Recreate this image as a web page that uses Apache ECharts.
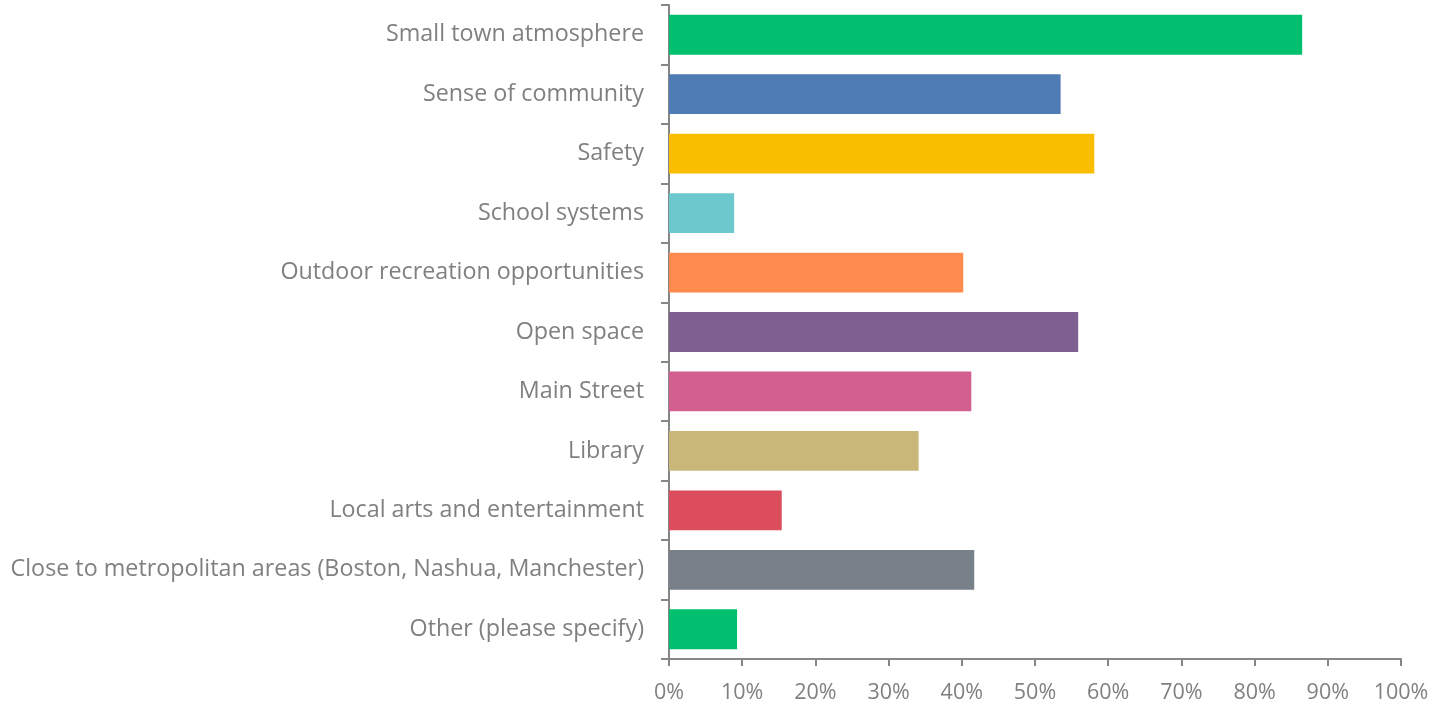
<!DOCTYPE html>
<html>
<head>
<meta charset="utf-8">
<script src="https://cdn.jsdelivr.net/npm/echarts@6/dist/echarts.min.js"></script>
<style>
  html, body { margin: 0; padding: 0; background: #ffffff; }
  #chart { width: 1441px; height: 705px; }
</style>
</head>
<body>
<div id="chart"></div>
<script>
// Survey responses: what residents value most about the town (share of respondents, %)
const categories = [
  'Small town atmosphere',
  'Sense of community',
  'Safety',
  'School systems',
  'Outdoor recreation opportunities',
  'Open space',
  'Main Street',
  'Library',
  'Local arts and entertainment',
  'Close to metropolitan areas (Boston, Nashua, Manchester)',
  'Other (please specify)'
];
const values = [86.5, 53.5, 58.1, 8.9, 40.2, 55.9, 41.3, 34.1, 15.4, 41.7, 9.3];
const barColors = [
  '#00BF6F', '#507CB6', '#F9BE00', '#6BC8CD', '#FF8B4F', '#7F5F8F',
  '#D25F90', '#C9B77A', '#DB4D5C', '#78808A', '#00BF6F'
];
const xTicks = [0, 10, 20, 30, 40, 50, 60, 70, 80, 90, 100];

const axisGrey = '#868686';
const textGrey = '#808080';
const fontFamily = '"Open Sans", "Noto Sans", sans-serif';

const chart = echarts.init(document.getElementById('chart'), null, { renderer: 'canvas' });
chart.setOption({
  animation: false,
  backgroundColor: '#ffffff',
  grid: { left: 669, right: 40, top: 5, bottom: 46, containLabel: false },
  xAxis: {
    type: 'value',
    min: xTicks[0],
    max: xTicks[xTicks.length - 1],
    interval: 10,
    splitLine: { show: false },
    axisLine: { show: true, lineStyle: { color: axisGrey, width: 2 } },
    axisTick: { show: true, length: 7, lineStyle: { color: axisGrey, width: 2 } },
    axisLabel: {
      color: textGrey, fontSize: 21.5, fontFamily: fontFamily, margin: 23,
      formatter: v => v + '%'
    }
  },
  yAxis: {
    type: 'category',
    inverse: true,
    data: categories,
    axisLine: { show: true, lineStyle: { color: axisGrey, width: 2 } },
    axisTick: { show: true, length: 8, lineStyle: { color: axisGrey, width: 2 } },
    axisLabel: { color: textGrey, fontSize: 23.3, fontFamily: fontFamily, margin: 25 }
  },
  series: [{
    type: 'bar',
    data: values.map((v, i) => ({ value: v, itemStyle: { color: barColors[i] } })),
    barCategoryGap: '33%'
  }]
});
</script>
</body>
</html>
